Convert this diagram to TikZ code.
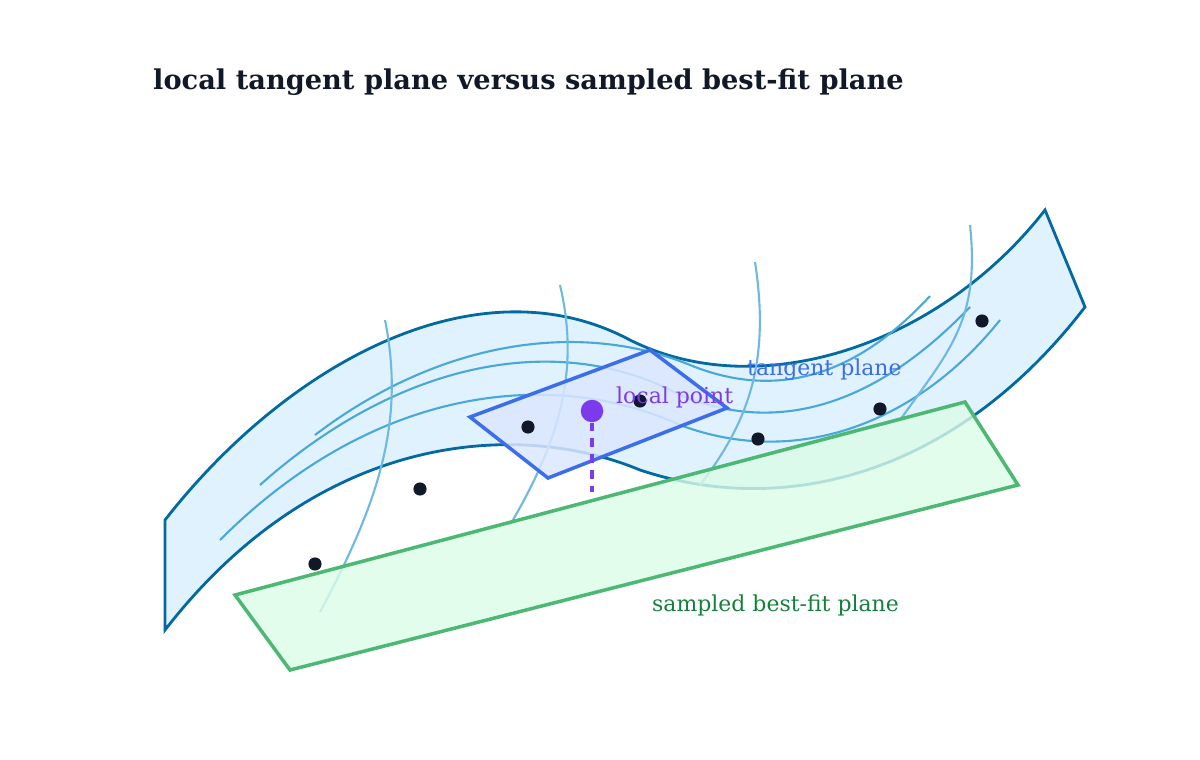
\documentclass[tikz,border=0pt]{standalone}
\usepackage{fontspec}
\setmainfont{DejaVu Serif}
\definecolor{ink}{HTML}{111827}
\definecolor{ribbon}{HTML}{0369A1}
\definecolor{ribfill}{HTML}{E0F2FE}
\definecolor{strand}{HTML}{4AA8D8}
\definecolor{tang}{HTML}{3B6EE8}
\definecolor{tangfill}{HTML}{DBE7FF}
\definecolor{fit}{HTML}{4CB874}
\definecolor{fitfill}{HTML}{DCFCE7}
\definecolor{fittext}{HTML}{15803D}
\definecolor{loc}{HTML}{7C3AED}
\begin{document}
\begin{tikzpicture}[x=0.02cm,y=-0.02cm]
\useasboundingbox (0,0) rectangle (1200,760);
\tikzset{sample/.style={circle,fill=ink,inner sep=0pt,minimum size=7.5pt},
  lbl/.style={font=\fontsize{12.5}{15}\selectfont,anchor=west}}
\node[font=\bfseries\fontsize{15.5}{19}\selectfont,text=ink,anchor=west] (title) at (147,82) {local tangent plane versus sampled best-fit plane};

% ribbon surface
\path[draw=ribbon,line width=1.6pt,fill=ribfill] (165,520) .. controls (290,360) and (480,260) .. (630,340)
  .. controls (760,405) and (940,345) .. (1045,210) -- (1085,307)
  .. controls (960,470) and (790,520) .. (640,470)
  .. controls (520,420) and (320,430) .. (165,630) -- cycle;

% strands along and across
\path[draw=strand,line width=1.2pt] (220,540) .. controls (380,380) and (560,370) .. (680,425) .. controls (800,470) and (920,420) .. (1000,320);
\path[draw=strand,line width=1.2pt] (260,485) .. controls (400,360) and (560,330) .. (680,395) .. controls (800,445) and (900,380) .. (970,307);
\path[draw=strand,line width=1.2pt] (315,435) .. controls (440,340) and (580,320) .. (690,365) .. controls (800,410) and (880,350) .. (930,296);
\path[draw=strand!80,line width=1.2pt] (385,320) .. controls (405,420) and (380,500) .. (320,612);
\path[draw=strand!80,line width=1.2pt] (560,285) .. controls (580,370) and (560,440) .. (510,525);
\path[draw=strand!80,line width=1.2pt] (755,262) .. controls (770,360) and (750,420) .. (700,485);
\path[draw=strand!80,line width=1.2pt] (970,225) .. controls (980,320) and (950,350) .. (900,420);

% sampled best-fit plane
\path[draw=fit,line width=2pt,fill=fitfill,fill opacity=0.8] (235,595) -- (965,402) -- (1018,485) -- (290,670) -- cycle;
\node[lbl,text=fittext] (fitlabel) at (646,605) {sampled best-fit plane};

% local tangent plane
\path[draw=tang,line width=2pt,fill=tangfill,fill opacity=0.85] (470,417) -- (650,350) -- (727,408) -- (548,478) -- cycle;
\node[lbl,text=tang] (tanglabel) at (741,370) {tangent plane};

% samples
\foreach \x/\y [count=\i] in {315/564,420/489,528/427,640/401,758/439,880/409,982/321}
  \node[sample] (s\i) at (\x,\y) {};

\node[circle,fill=loc,inner sep=0pt,minimum size=12.8pt] (lp) at (592,411) {};
\coordinate (foot) at (592,492);
\path[draw=loc,line width=1.8pt,dash pattern=on 5pt off 4pt] (lp) -- (foot);
\node[lbl,text=loc] (lplabel) at (610,397) {local point};
\end{tikzpicture}
\end{document}
